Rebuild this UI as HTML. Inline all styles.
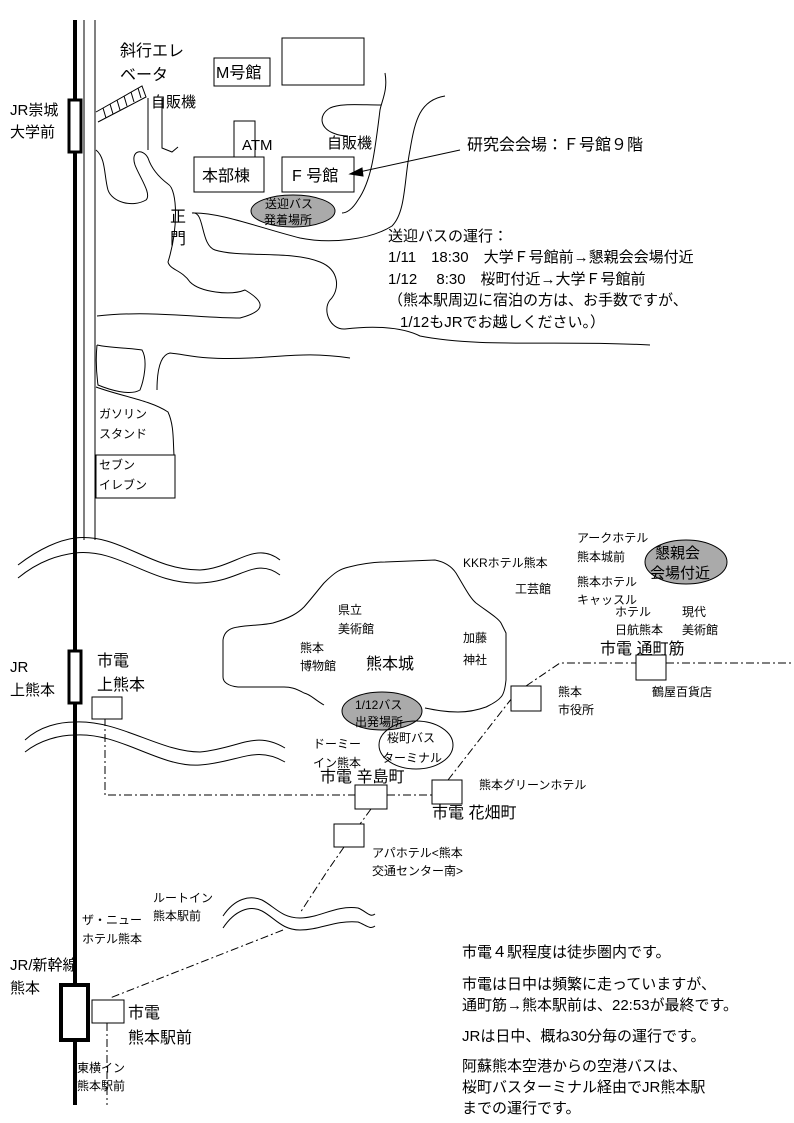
<html><head><meta charset="utf-8"><style>
body{margin:0;background:#fff}
svg{display:block}
text{font-family:"Liberation Sans","Noto Sans CJK JP",sans-serif;fill:#000}
.s{font-size:12px}.m{font-size:15px}.l{font-size:16px}
</style></head><body>
<svg width="794" height="1123" viewBox="0 0 794 1123" xmlns="http://www.w3.org/2000/svg">
<g fill="none" stroke="#000" stroke-width="1">
<line x1="75" y1="20" x2="75" y2="1105" stroke-width="4"/>
<line x1="84" y1="20" x2="84" y2="540"/>
<line x1="95" y1="20" x2="95" y2="540"/>
<path d="M96,112 L142,86 L146,97 L98,122"/>
<path d="M103,108 L106,118 M110,104 L113,114 M117,100 L120,110 M124,96 L127,106 M131,92 L134,102 M138,88 L141,98"/>
<path d="M148,98 L148,150 M162,98 L162,148 L172,152 L178,147"/>
<rect x="214" y="58" width="56" height="28"/>
<rect x="282" y="38" width="82" height="47"/>
<rect x="234" y="121" width="21" height="36"/>
<rect x="194" y="157" width="70" height="35"/>
<rect x="282" y="157" width="72" height="35"/>
<path d="M460,150 L350,174" /><path d="M350,174 L362,168 L363,176 Z" fill="#000"/>
<ellipse cx="293" cy="211" rx="42" ry="16" fill="#aaa"/>
<path d="M96,150 C106,158 104,176 108,190 C112,202 132,208 146,200 C152,194 140,178 135,165 C130,150 143,148 148,158 C152,170 160,178 168,184 C178,190 178,230 168,262 C170,270 182,270 190,282 C200,292 230,296 245,290 C262,300 270,310 240,318 C200,318 150,310 97,316"/>
<path d="M192,213 C205,210 200,245 215,250 C240,258 290,250 320,262 C340,270 340,290 330,300 C322,310 330,330 345,329 C370,326 400,326 420,336 C480,348 560,340 650,345"/>
<path d="M192,213 C220,212 260,228 300,238 C330,244 370,240 392,226 C406,212 404,180 410,150 C415,120 420,100 445,96"/>
<path d="M385,73 C388,90 382,100 380,110 C375,150 372,180 358,200 C352,210 346,213 342,213"/>
<path d="M381,105 C360,105 340,103 330,108 C318,115 320,128 333,133 C340,136 345,136 348,136"/>
<path d="M97,345 C110,348 130,348 142,350 C148,360 144,380 140,390 C130,396 110,390 98,385 C96,370 96,355 97,345"/>
<path d="M96,387 C120,396 150,400 168,412 C174,425 173,440 174,455"/>
<rect x="96" y="455" width="79" height="43"/>
<path d="M157,390 C157,370 160,355 170,353 C190,355 200,360 250,358 C290,356 310,352 350,358"/>
<path d="M18,578 C40,560 60,555 75,553 C120,548 150,585 200,583 C240,582 255,556 280,575"/>
<path d="M18,565 C40,548 60,540 75,538 C120,533 150,570 200,570 C235,568 255,540 280,560"/>
<path d="M25,752 C40,740 60,735 75,735 C120,732 160,768 200,765 C240,762 255,745 285,762"/>
<path d="M25,740 C40,726 60,722 75,722 C120,720 160,752 200,752 C240,748 255,730 285,748"/>
<path d="M223,928 C235,910 250,905 262,911 C275,918 282,930 300,930 C320,930 335,920 358,922 C366,925 370,930 375,926"/>
<path d="M223,916 C235,898 250,895 262,900 C275,907 282,918 300,918 C320,918 335,905 358,908 C366,911 370,918 375,914"/>
<path d="M324,705 C315,700 310,694 304,693 C295,688 290,687 284,687 L238,687 C228,686 223,682 223,677 L223,640 C224,632 230,628 238,627 C250,625 265,625 273,623 C290,618 298,613 304,607 C312,598 318,590 324,583 C335,572 340,569 349,567 C365,563 375,562 385,562 L435,560 C445,562 452,567 456,573 C465,588 470,598 476,603 C488,612 498,618 501,623 L506,633 L506,680 C505,690 503,695 501,697 C497,702 490,705 486,707 C475,711 465,712 458,712 C445,712 435,710 425,708"/>
<ellipse cx="382" cy="711" rx="40" ry="19" fill="#aaa"/>
<ellipse cx="416" cy="745" rx="37" ry="24"/>
<ellipse cx="686" cy="562" rx="41" ry="22" fill="#aaa"/>
<g stroke-dasharray="8,3,2,3">
<path d="M105,718 L105,795 L355,795 M387,795 L432,795"/>
<path d="M448,780 L512,698 M526,686 L560,663 L636,663 M666,663 L794,663"/>
<path d="M371,809 L360,824 M344,847 L328,870 L300,913 M283,930 L110,998"/>
<path d="M107,1023 L107,1105"/>
</g>
<g fill="#fff">
<rect x="92" y="697" width="30" height="22"/>
<rect x="355" y="785" width="32" height="24"/>
<rect x="432" y="780" width="30" height="24"/>
<rect x="511" y="686" width="30" height="25"/>
<rect x="636" y="655" width="30" height="25"/>
<rect x="334" y="824" width="30" height="23"/>
<rect x="92" y="1000" width="32" height="23"/>
<rect x="69" y="100" width="12" height="52" stroke-width="3"/>
<rect x="69" y="651" width="12" height="52" stroke-width="3"/>
<rect x="61" y="985" width="27" height="55" stroke-width="4"/>
</g>
</g>
<text class="l" x="120" y="56">斜行エレ</text>
<text class="l" x="120" y="80">ベータ</text>
<text class="m" x="151" y="107">自販機</text>
<text class="l" x="216" y="78">M号館</text>
<text class="m" x="242" y="150">ATM</text>
<text class="l" x="202" y="181">本部棟</text>
<text class="l" x="292" y="181">F 号館</text>
<text class="m" x="327" y="148">自販機</text>
<text class="l" x="467" y="150">研究会会場：Ｆ号館９階</text>
<text class="s" x="265" y="208">送迎バス</text>
<text class="s" x="264" y="224">発着場所</text>
<text class="l" x="170" y="222">正</text>
<text class="l" x="170" y="244">門</text>
<text class="m" x="388" y="241">送迎バスの運行：</text>
<text class="m" x="388" y="262">1/11　18:30　大学Ｆ号館前→懇親会会場付近</text>
<text class="m" x="388" y="284">1/12　 8:30　桜町付近→大学Ｆ号館前</text>
<text class="m" x="388" y="305">（熊本駅周辺に宿泊の方は、お手数ですが、</text>
<text class="m" x="400" y="327">1/12もJRでお越しください。）</text>
<text class="m" x="10" y="115">JR崇城</text>
<text class="m" x="10" y="137">大学前</text>
<text class="s" x="99" y="418">ガソリン</text>
<text class="s" x="99" y="438">スタンド</text>
<text class="s" x="99" y="469">セブン</text>
<text class="s" x="99" y="489">イレブン</text>
<text class="s" x="577" y="542">アークホテル</text>
<text class="s" x="577" y="561">熊本城前</text>
<text class="s" x="577" y="586">熊本ホテル</text>
<text class="s" x="577" y="604">キャッスル</text>
<text class="m" x="655" y="558">懇親会</text>
<text class="m" x="650" y="578">会場付近</text>
<text class="s" x="463" y="567">KKRホテル熊本</text>
<text class="s" x="515" y="593">工芸館</text>
<text class="s" x="615" y="616">ホテル</text>
<text class="s" x="682" y="616">現代</text>
<text class="s" x="615" y="634">日航熊本</text>
<text class="s" x="682" y="634">美術館</text>
<text class="l" x="600" y="654">市電 通町筋</text>
<text class="s" x="652" y="696">鶴屋百貨店</text>
<text class="s" x="338" y="614">県立</text>
<text class="s" x="338" y="633">美術館</text>
<text class="s" x="300" y="652">熊本</text>
<text class="s" x="300" y="670">博物館</text>
<text class="l" x="366" y="669">熊本城</text>
<text class="s" x="463" y="642">加藤</text>
<text class="s" x="463" y="664">神社</text>
<text class="s" x="558" y="696">熊本</text>
<text class="s" x="558" y="714">市役所</text>
<text class="s" x="355" y="709">1/12バス</text>
<text class="s" x="355" y="726">出発場所</text>
<text class="s" x="387" y="742">桜町バス</text>
<text class="s" x="382" y="762">ターミナル</text>
<text class="s" x="313" y="748">ドーミー</text>
<text class="s" x="313" y="767">イン熊本</text>
<text class="l" x="320" y="782">市電 辛島町</text>
<text class="s" x="479" y="789">熊本グリーンホテル</text>
<text class="l" x="432" y="818">市電 花畑町</text>
<text class="s" x="372" y="857">アパホテル&lt;熊本</text>
<text class="s" x="372" y="875">交通センター南&gt;</text>
<text class="m" x="10" y="672">JR</text>
<text class="m" x="10" y="695">上熊本</text>
<text class="l" x="97" y="666">市電</text>
<text class="l" x="97" y="690">上熊本</text>
<text class="s" x="153" y="902">ルートイン</text>
<text class="s" x="153" y="920">熊本駅前</text>
<text class="s" x="82" y="924">ザ・ニュー</text>
<text class="s" x="82" y="943">ホテル熊本</text>
<text class="m" x="10" y="970">JR/新幹線</text>
<text class="m" x="10" y="993">熊本</text>
<text class="l" x="128" y="1018">市電</text>
<text class="l" x="128" y="1043">熊本駅前</text>
<text class="s" x="77" y="1072">東横イン</text>
<text class="s" x="77" y="1090">熊本駅前</text>
<text class="m" x="462" y="957">市電４駅程度は徒歩圏内です。</text>
<text class="m" x="462" y="989">市電は日中は頻繁に走っていますが、</text>
<text class="m" x="462" y="1010">通町筋→熊本駅前は、22:53が最終です。</text>
<text class="m" x="462" y="1041">JRは日中、概ね30分毎の運行です。</text>
<text class="m" x="462" y="1071">阿蘇熊本空港からの空港バスは、</text>
<text class="m" x="462" y="1092">桜町バスターミナル経由でJR熊本駅</text>
<text class="m" x="462" y="1113">までの運行です。</text>
</svg>
</body></html>
